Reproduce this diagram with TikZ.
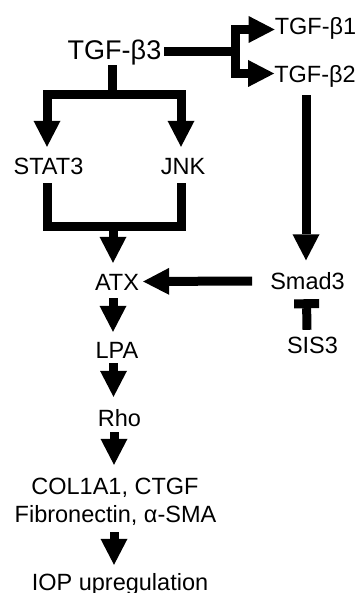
\documentclass[tikz,border=0pt]{standalone}
\usepackage{fontspec}
\setmainfont{Liberation Sans}
\usetikzlibrary{arrows.meta,calc}
\tikzset{
  lbl/.style={inner sep=0pt, anchor=base, text height=17pt, text depth=0pt,
    font=\fontsize{23.5}{28}\selectfont},
  biglbl/.style={lbl, text height=19.3pt, font=\fontsize{27}{32}\selectfont},
  conn/.style={line width=9pt, line join=miter, draw=black},
  arr/.style={conn, -{Triangle[length=26pt,width=27pt,line width=0pt]}},
  biarr/.style={conn, {Triangle[length=26pt,width=27pt,line width=0pt]}-{Triangle[length=26pt,width=27pt,line width=0pt]}},
  inh/.style={conn, -{Rectangle[length=9pt,width=25pt,line width=0pt]}}
}
\begin{document}
\begin{tikzpicture}[x=1pt,y=-1pt]
\fill[white] (0,0) rectangle (363,593);
\useasboundingbox (0,0) rectangle (363,593);
% nodes
\node[biglbl] (tgf3) at (114.5,59.3) {TGF-β3};
\node[lbl] (tgf1) at (315.5,35) {TGF-β1};
\node[lbl] (tgf2) at (315,83) {TGF-β2};
\node[lbl] (stat3) at (48.5,175) {STAT3};
\node[lbl] (jnk) at (183,175) {JNK};
\node[lbl] (atx) at (117,290) {ATX};
\node[lbl] (smad3) at (307.5,289.5) {Smad3};
\node[lbl] (sis3) at (312.5,353) {SIS3};
\node[lbl] (lpa) at (117,358) {LPA};
\node[lbl] (rho) at (119.5,426) {Rho};
\node[lbl] (col) at (115,494) {COL1A1, CTGF};
\node[lbl] (fib) at (115.5,522) {Fibronectin, α-SMA};
\node[lbl] (iop) at (120,590) {IOP upregulation};
% junction coordinates
\coordinate (b0) at (112.5,95);
\coordinate (b2) at (113,227);
\coordinate (j) at (235,52);
% TGF-b3 to TGF-b1 / TGF-b2
\draw[conn] ($(tgf3.east |- j)+(3,0)$) -- (j);
\draw[arr] (j) |- ($(tgf1.west)+(0,3)$);
\draw[arr] (j) |- ($(tgf2.west)+(0,-1)$);
% TGF-b3 to STAT3 / JNK
\draw[conn] ($(tgf3.south -| b0)+(0,6)$) -- (b0);
\draw[biarr] ($(stat3.north)+(-1.5,-11)$) |- (b0) -| ($(jnk.north)+(-2,-11)$);
% STAT3 / JNK to ATX
\draw[conn] ($(stat3.south)+(-1.5,8)$) |- (b2) -| ($(jnk.south)+(-2,8)$);
\draw[arr] (b2) -- ($(atx.north)+(-4,-10)$);
% TGF-b2 to Smad3
\draw[arr] ($(tgf2.south)+(-9,12)$) -- ($(smad3.north)+(-1.5,-12)$);
% Smad3 to ATX
\draw[arr] ($(smad3.west)+(-18,0)$) -- ($(atx.east)+(4,0)$);
% SIS3 inhibits Smad3
\draw[inh] ($(sis3.north)+(-5.5,-6)$) -- ($(smad3.south)+(-1,9.5)$);
% main chain
\draw[arr] ($(atx.south)+(-4,8)$) -- ($(lpa.north)+(-4,-9)$);
\draw[arr] ($(lpa.south)+(-3.5,5)$) -- ($(rho.north)+(-6,-12)$);
\draw[arr] ($(rho.south)+(-5.5,6)$) -- ($(col.north)+(-1,-12)$);
\draw[arr] ($(fib.south)+(-1.5,10)$) -- ($(iop.north)+(-6,-8)$);
\end{tikzpicture}
\end{document}
